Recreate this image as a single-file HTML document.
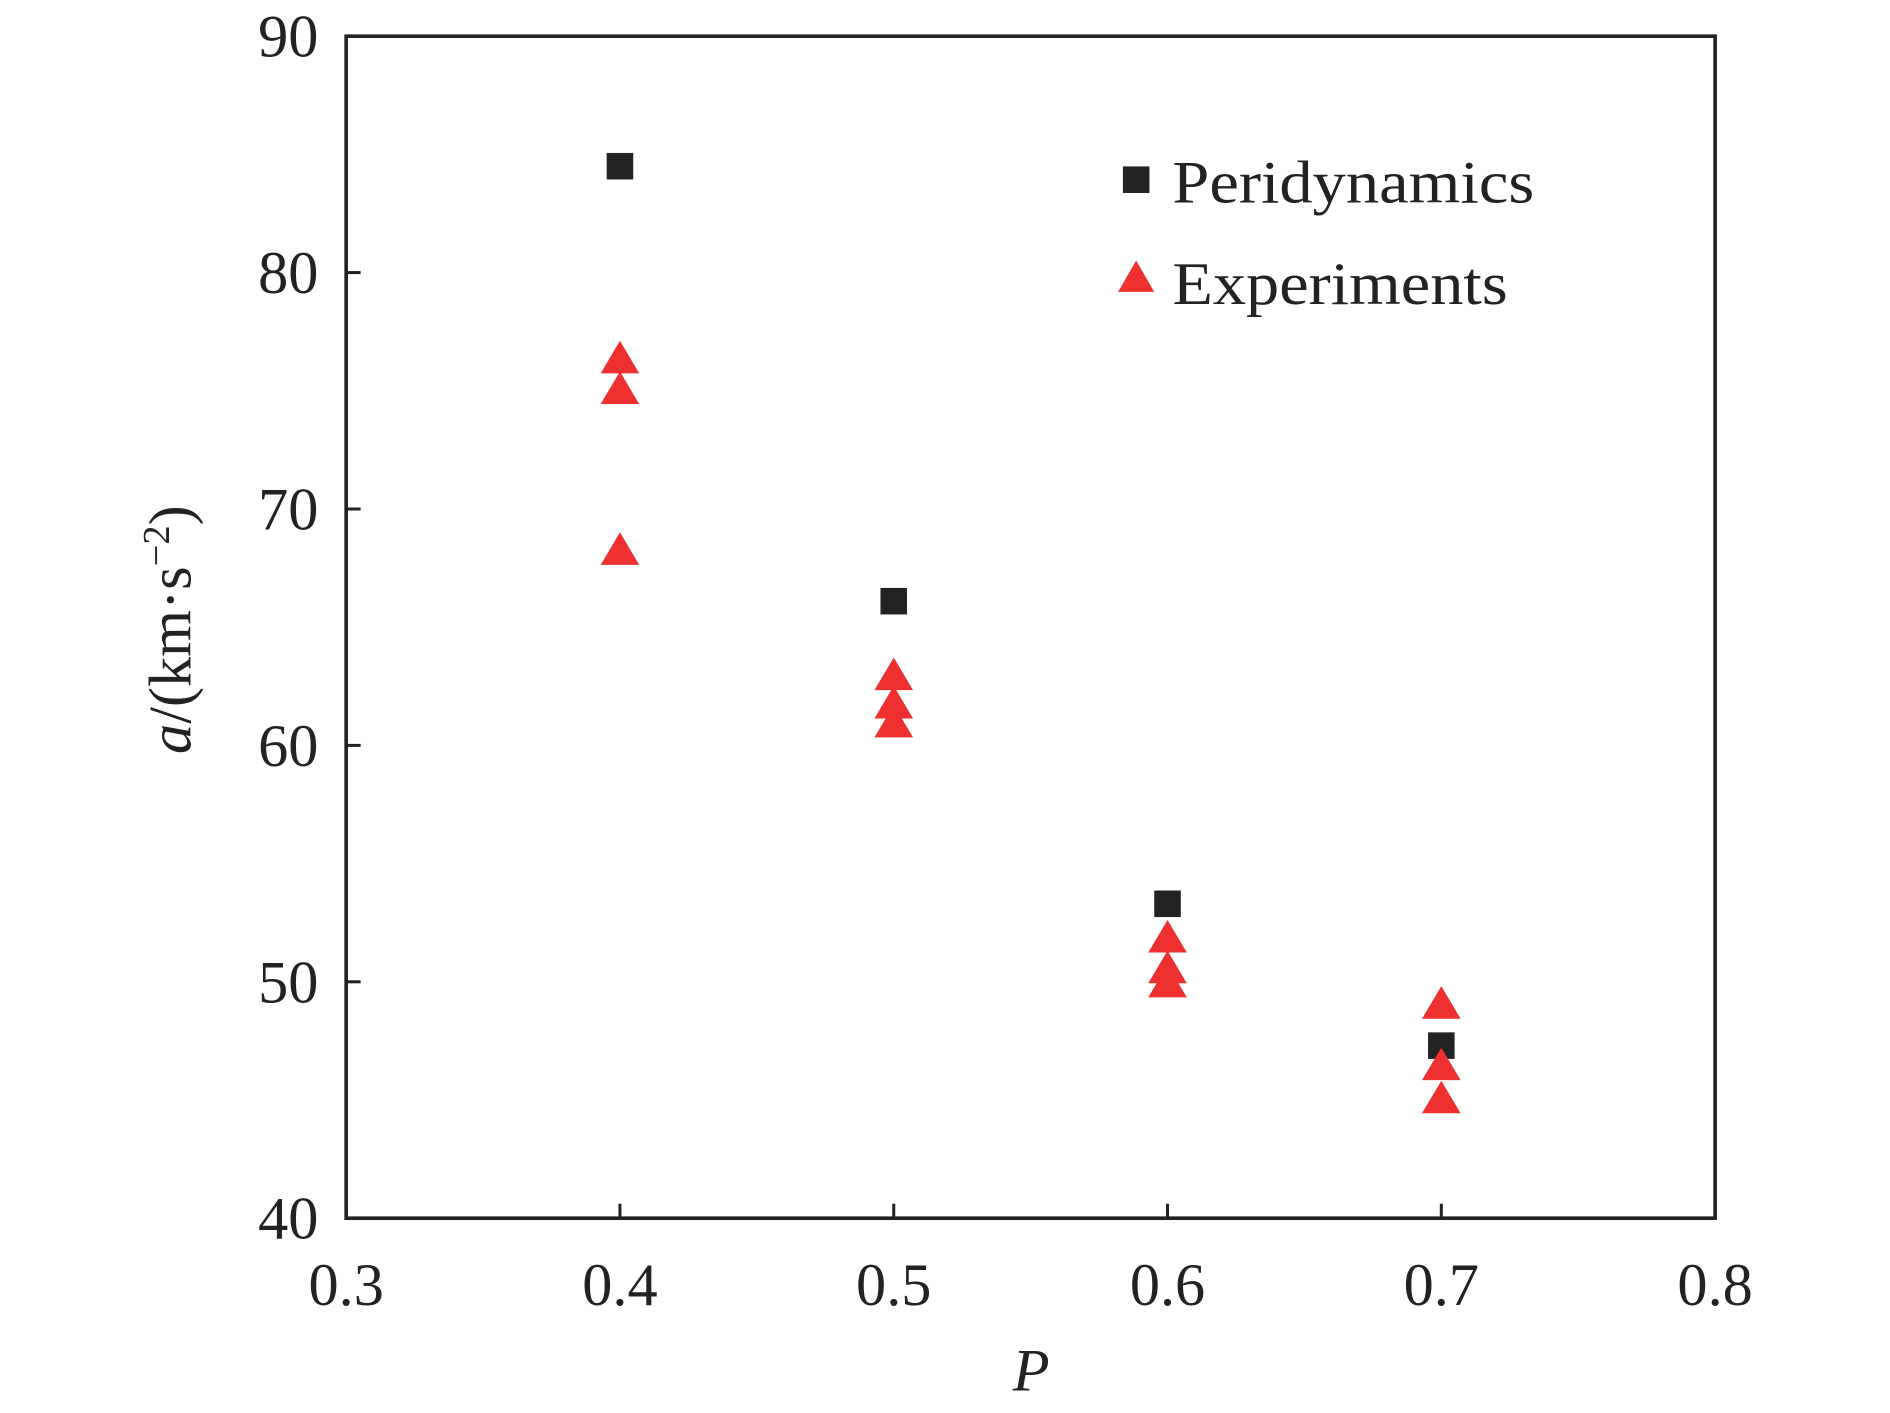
<!DOCTYPE html>
<html><head><meta charset="utf-8"><style>html,body{margin:0;padding:0;background:#fff}svg{display:block}</style></head>
<body>
<svg width="1890" height="1413" viewBox="0 0 1567 1171.5" preserveAspectRatio="none" xmlns="http://www.w3.org/2000/svg" font-family="'Liberation Serif', serif" fill="#222">
<g id="axes"></g><g id="marks"></g>
<g>
<rect x="931" y="138" width="22" height="22" fill="#222"/>
<text x="972" y="168" font-size="50" textLength="300" lengthAdjust="spacingAndGlyphs">Peridynamics</text>
<polygon points="942,216 957,242 927,242" fill="#ee3030"/>
<text x="972" y="252" font-size="50" textLength="278" lengthAdjust="spacingAndGlyphs">Experiments</text>
</g>
<text x="855" y="1153" font-size="50" font-style="italic" text-anchor="middle">P</text>
<text transform="translate(158,522) rotate(-90)" font-size="50" text-anchor="middle"><tspan font-style="italic">a</tspan>/(km·s<tspan font-size="32" dy="-18">−2</tspan><tspan dy="18">)</tspan></text>
</svg>
<script>
const xTicks=[0.3,0.4,0.5,0.6,0.7,0.8];
const yTicks=[40,50,60,70,80,90];
const periX=[0.4,0.5,0.6,0.7];
const periY=[84.5,66.1,53.3,47.3];
const expX=[0.4,0.4,0.4,0.5,0.5,0.5,0.6,0.6,0.6,0.7,0.7,0.7];
const expY=[76.3,75.0,68.2,62.9,61.7,60.9,51.8,50.5,49.9,49.0,46.4,45.0];
const L=287,R=1422,T=30,B=1010;
const sx=v=>L+(v-0.3)/(0.5)*(R-L);
const sy=v=>B-(v-40)/50*(B-T);
const NS="http://www.w3.org/2000/svg";
const axes=document.getElementById('axes'),marks=document.getElementById('marks');
function mk(t,a,p){const e=document.createElementNS(NS,t);for(const k in a)e.setAttribute(k,a[k]);p.appendChild(e);return e;}
const fr=mk('rect',{x:L,y:T,width:R-L,height:B-T,fill:'none',stroke:'#222','stroke-width':3},axes);


xTicks.forEach(v=>{
 const t=mk('line',{x1:sx(v),x2:sx(v),y1:B,y2:B-12,stroke:'#222','stroke-width':2.5},axes);
 
 
 const l=mk('text',{x:sx(v),y:B+72,'font-size':50,'text-anchor':'middle'},axes);l.textContent=v.toFixed(1);
 
 
});
yTicks.forEach(v=>{
 const t=mk('line',{x1:L,x2:L+12,y1:sy(v),y2:sy(v),stroke:'#222','stroke-width':2.5},axes);
 
 
 const l=mk('text',{x:L-23,y:sy(v)+17,'font-size':50,'text-anchor':'end'},axes);l.textContent=v;
 
 
});
periX.forEach((x,i)=>{
 const r=mk('rect',{x:sx(x)-11,y:sy(periY[i])-11,width:22,height:22,fill:'#222'},marks);
 
 
});
expX.forEach((x,i)=>{
 const cx=sx(x),cy=sy(expY[i]);
 const p=mk('polygon',{points:`${cx},${cy-16} ${cx+16},${cy+11} ${cx-16},${cy+11}`,fill:'#ee3030'},marks);
 
 
});
</script>
</body></html>
